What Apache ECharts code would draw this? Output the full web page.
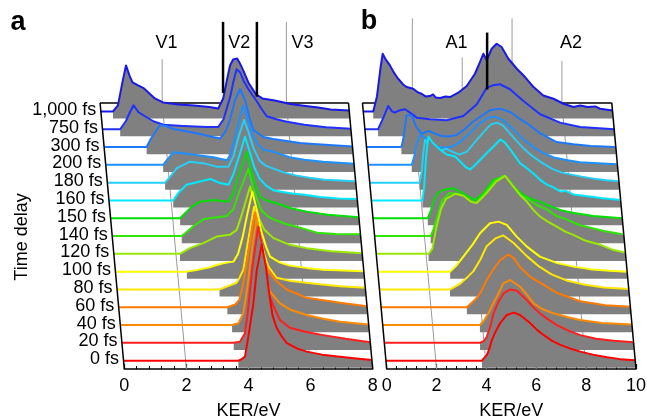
<!DOCTYPE html>
<html>
<head>
<meta charset="utf-8">
<script src="https://cdn.jsdelivr.net/npm/echarts@6/dist/echarts.min.js"></script>
<style>
  html, body { margin: 0; padding: 0; background: #fff; }
  #chart { width: 647px; height: 420px; }
</style>
</head>
<body>
<div id="chart"></div>
<script>
// time delays, front row (0 fs) to back row (1,000 fs)
const delays = ['0 fs', '20 fs', '40 fs', '60 fs', '80 fs', '100 fs', '120 fs', '140 fs',
  '150 fs', '160 fs', '180 fs', '200 fs', '300 fs', '750 fs', '1,000 fs'];
const rowColors = ['#ff0000', '#ff1e1e', '#ff8a00', '#ff7a00', '#ffe800', '#ffff00', '#9be800',
  '#2ee600', '#00e000', '#00e8ff', '#25cff5', '#1e90ff', '#1e78ff', '#2030ff', '#1818e8'];

// panel a, [KER/eV, intensity]
const a0 = [[0,0],[3.7,0],[3.8,1.4],[3.91,4],[4.02,24],[4.18,57],[4.29,90],[4.45,116],[4.58,95],[4.7,65],[4.8,45],[4.93,33],[5.1,24],[5.26,17.4],[5.6,12],[5.9,9],[6.4,6],[6.97,4],[7.5,2.2],[8,0.7]];
const a20 = [[0,0],[3.6,0],[3.8,1],[3.96,9.4],[4.05,30],[4.2,75],[4.39,116],[4.5,100],[4.6,75],[4.71,50],[4.88,37],[5.09,22.7],[5.41,15],[5.9,11],[6.49,7.7],[7.2,4],[8,0.5]];
const a40 = [[0,0],[3.6,0],[3.8,1.7],[3.96,11.7],[4.1,40],[4.25,78],[4.39,106.7],[4.5,88],[4.6,65],[4.72,45],[4.82,33.3],[5.14,21.7],[5.5,15],[6.0,10],[6.5,6.5],[7.08,3.3],[8,0.5]];
const a60 = [[0,0],[3.5,0],[3.75,2.7],[3.89,7.7],[4.0,22],[4.15,50],[4.3,80],[4.39,95],[4.5,80],[4.6,60],[4.7,46],[4.82,36],[5.09,26],[5.41,17.7],[6.06,9.4],[7.13,4.4],[8,1]];
const a80 = [[0,0],[3.3,0],[3.64,4],[3.85,6.7],[3.95,12],[4.07,20],[4.2,45],[4.41,82.7],[4.55,62],[4.7,40],[4.87,23],[5.14,11.7],[5.6,8.5],[6.11,6.7],[6.6,5],[7.18,3.3],[8,1.7]];
const a100 = [[0,0],[2.3,0],[2.6,1.5],[3.0,4],[3.26,6.7],[3.5,8.5],[3.8,10],[3.95,18],[4.1,35],[4.25,58],[4.41,80],[4.55,62],[4.7,40],[4.85,25],[4.98,15],[5.3,9],[5.62,6],[6.2,3.5],[6.7,2],[8,0.5]];
const a120 = [[0,0],[2.13,0],[2.45,5.7],[2.88,10.7],[3.31,17.3],[3.74,19],[3.96,24],[4.15,42],[4.39,67.3],[4.52,52],[4.68,35],[4.85,24],[5.14,15.7],[5.67,9],[6.21,5.7],[7.0,2.5],[8,0.7]];
const a140 = [[0,0],[2.24,0],[2.4,4],[2.62,10],[2.94,16.7],[3.26,18.4],[3.69,20],[3.9,26.7],[4.1,45],[4.39,67.4],[4.52,50],[4.65,38],[4.8,26],[5.0,20],[5.19,16.7],[5.6,12],[6.05,8.4],[6.59,3.4],[7.2,2],[8,1.7]];
const a150 = [[0,0],[2.24,0],[2.4,5],[2.62,11.6],[2.88,16.6],[3.31,18.3],[3.79,16.6],[3.95,25],[4.15,45],[4.39,66.6],[4.5,50],[4.65,35],[4.81,22],[5.0,18],[5.35,15],[5.8,10],[6.32,6.6],[7.0,3.5],[8,1]];
const a160 = [[0,0],[2.07,0],[2.25,8],[2.5,15.7],[2.93,19],[3.26,21.4],[3.58,17.4],[3.85,15.7],[4.0,25.7],[4.2,45],[4.38,63.7],[4.52,50],[4.68,33],[4.85,22],[5.05,15],[5.3,10],[5.6,8.5],[5.9,7],[6.3,5.7],[6.8,3.5],[7.4,2],[8,1.5]];
const a180 = [[0,0],[1.86,0],[2.0,5],[2.24,14.5],[2.66,21],[3.09,19.5],[3.52,16],[3.9,16],[4.06,26],[4.22,45],[4.4,62.7],[4.55,50],[4.7,35],[4.9,22],[5.1,17],[5.35,14],[5.7,10],[6.1,7],[6.5,5],[7.0,3],[8,1.5]];
const a200 = [[0,0],[1.85,0],[2.0,6],[2.18,12.5],[2.61,11],[3.04,9.3],[3.47,7.6],[3.9,4.5],[4.0,9],[4.15,25],[4.3,45],[4.42,59],[4.55,48],[4.7,32],[4.9,20],[5.1,15],[5.4,13],[5.7,10],[6.0,7],[6.4,5],[7.0,3],[8,1]];
const a300 = [[0,0],[1.37,0],[1.5,8],[1.69,17],[1.8,22],[2.0,21],[2.23,18],[2.6,16],[3.09,13],[3.5,10],[3.73,8.5],[3.9,15],[4.05,27],[4.22,47],[4.38,58],[4.54,47],[4.7,27],[4.81,17],[5.13,10],[5.45,8],[5.77,6.5],[6.31,4],[6.63,3.4],[7.38,1.7],[8,0.5]];
const a750 = [[0,0],[0.57,0],[0.75,8],[0.9,18],[1.0,24],[1.16,17],[1.37,13],[1.64,8],[1.96,4.5],[2.6,3.3],[3.36,2.3],[3.73,2.3],[3.9,10],[4.11,32],[4.22,48],[4.32,60],[4.43,57],[4.55,48],[4.7,40],[4.97,28],[5.13,20],[5.29,13],[5.6,10],[5.94,7.5],[6.5,4.5],[7.2,2],[8,0.5]];
const a1000 = [[0,0],[0.39,0],[0.55,6],[0.7,30],[0.81,46],[0.92,36],[1.02,29],[1.2,26],[1.39,23],[1.6,17],[1.74,13],[2.0,9],[2.5,7],[3.0,6],[3.5,4.5],[3.78,3],[3.94,13],[4.05,30],[4.16,46],[4.26,52],[4.39,53],[4.48,48],[4.6,40],[4.75,29],[5.0,17],[5.2,13],[5.6,11],[6.1,7.5],[6.6,5.5],[7.0,4],[7.4,2],[8,1]];

// panel b, [KER/eV, intensity]
const b0 = [[0,0],[3.85,0],[4.05,5.7],[4.15,12],[4.25,20.7],[4.4,29],[4.58,37.4],[4.85,45.7],[5.12,48],[5.38,45.7],[5.79,37.4],[6.05,31],[6.32,25.7],[6.65,20],[7.0,15.7],[7.4,12],[7.8,9],[8.3,6],[8.87,3.4],[9.4,1.5],[10,0.5]];
const b20 = [[0,0],[3.84,0],[4.0,2],[4.11,6],[4.25,16],[4.38,29.4],[4.58,41],[4.78,49.4],[5.05,53.4],[5.32,52],[5.72,42.7],[6.0,35],[6.25,29.4],[6.6,23],[6.92,17.7],[7.4,12],[7.86,7.7],[8.5,4],[9.2,2],[10,0.5]];
const b40 = [[0,0],[3.9,0],[4.05,4],[4.24,11.7],[4.4,20],[4.58,28.3],[4.84,41.7],[5.11,45],[5.51,38.3],[5.8,30],[6.05,21.7],[6.4,16],[6.85,11.7],[7.4,8],[7.92,5],[8.8,2],[10,0.5]];
const b60 = [[0,0],[3.44,0],[3.78,7.7],[4.0,15],[4.18,24.4],[4.45,36],[4.77,47],[5.1,52.7],[5.31,49.4],[5.58,40],[6.0,30],[6.39,24.4],[7.05,14.4],[7.99,6],[9,2],[10,0.5]];
const b80 = [[0,0],[2.83,0],[3.2,5],[3.57,13.3],[3.77,18.3],[4.05,30],[4.3,43.3],[4.65,51],[4.97,54],[5.37,46.7],[5.91,33.3],[6.4,23],[6.9,15],[7.5,9],[8.2,5],[9,2],[10,0.5]];
const b100 = [[0,0],[2.9,0],[3.15,6],[3.43,15],[3.8,27],[4.1,38.4],[4.5,48.4],[4.84,50],[5.17,46.7],[5.57,35],[5.98,25],[6.5,15],[7.2,8.5],[7.84,5],[8.5,2.5],[9.3,1],[10,0]];
const b120 = [[0,0],[2.1,0],[2.25,5],[2.4,25],[2.6,45],[2.8,55],[3.16,60],[3.5,58],[3.8,52],[4.03,50.7],[4.4,60],[4.8,72],[5.17,78],[5.5,67.3],[5.8,58],[6.04,52.3],[6.3,44],[6.57,37.3],[6.9,32],[7.24,27.3],[7.6,22],[7.91,19],[8.4,13],[9.0,9],[9.5,4],[10,1]];
const b140 = [[0,0],[2.25,0],[2.35,6],[2.5,18],[2.7,35],[3.0,43],[3.4,42],[3.8,36],[4.05,33],[4.4,42],[4.8,55],[5.15,60],[5.5,52],[5.9,40],[6.1,38],[6.5,31],[6.9,26.7],[7.3,20],[7.7,16.7],[8.2,11],[8.65,8.4],[9.2,5],[10,1.5]];
const b150 = [[0,0],[2.2,0],[2.3,6],[2.45,18],[2.6,25],[2.82,28.3],[3.22,30],[3.49,26.6],[3.82,21.6],[4.09,18.3],[4.43,25],[4.83,38.3],[5.23,41.6],[5.5,37],[5.63,31.6],[6.03,23.3],[6.3,19.5],[6.7,16.6],[7.1,12],[7.51,8.3],[8.0,5.5],[8.84,2.3],[10,0]];
const b160 = [[0,0],[2.05,0],[2.12,15],[2.2,45],[2.29,64],[2.45,58],[2.75,51],[3.02,46],[3.36,44],[3.56,39],[3.8,33],[3.96,31],[4.1,34],[4.38,41],[4.65,48],[4.9,54],[5.17,61],[5.35,58],[5.57,51],[5.97,37],[6.2,33],[6.5,27],[6.8,20],[7.03,16],[7.3,13],[7.57,9],[7.8,9.5],[8.1,6],[8.6,4.5],[9.2,2.4],[10,0.5]];
const b180 = [[0,0],[2.0,0],[2.08,10],[2.15,30],[2.22,43],[2.35,38],[2.55,33],[2.8,31],[3.05,34],[3.3,31],[3.6,28],[3.9,31],[4.2,40],[4.55,50],[4.85,58],[5.1,60],[5.35,57],[5.7,47],[6.1,36],[6.5,27],[6.9,20],[7.3,14],[7.7,10],[8.1,8],[8.5,6],[9.0,4],[9.5,2.5],[10,1.5]];
const b200 = [[0,0],[1.75,0],[1.85,8],[1.95,22],[2.1,30],[2.25,28],[2.45,22],[2.75,18],[3.05,17],[3.35,18],[3.7,23],[4.05,31],[4.45,41],[4.8,47],[5.1,48],[5.4,45],[5.8,36],[6.2,26],[6.6,18],[7.0,12],[7.5,7],[8.0,4.5],[8.5,2.5],[9.2,1.5],[10,0.5]];
const b300 = [[0,0],[1.4,0],[1.47,7],[1.55,22],[1.61,31.7],[1.81,31.7],[2.0,20],[2.2,13.4],[2.5,16],[2.75,13.4],[3.0,11],[3.3,10.5],[3.6,12],[3.95,18],[4.25,25],[4.55,30],[4.95,36.7],[5.35,38.4],[5.76,35],[6.1,29],[6.42,24],[6.95,14],[7.63,5],[8.3,2.7],[9,1],[10,0]];
const b750 = [[0,0],[0.53,0],[0.75,12],[0.94,23.3],[1.08,18],[1.2,16.6],[1.4,19],[1.61,20],[1.81,16.6],[2.08,11.6],[2.61,10],[3.28,9],[3.95,13.3],[4.49,25],[4.89,41.6],[5.15,44],[5.42,45],[5.82,40],[6.36,28.3],[7.03,15],[7.83,6.6],[8.64,2.3],[10,0]];
const b1000 = [[0,0],[0.4,0],[0.55,15],[0.7,45],[0.78,57.7],[0.9,52],[1.07,46],[1.25,38],[1.4,32.7],[1.6,27],[1.74,24.4],[2.0,22.7],[2.2,19],[2.34,17.7],[2.5,15],[2.67,15.4],[2.8,17],[2.9,14],[3.08,13.4],[3.3,15],[3.48,14.4],[3.81,18.7],[4.15,25.4],[4.48,37.7],[4.68,49.4],[4.82,57.7],[4.95,51],[5.15,62.7],[5.35,67.7],[5.55,64.4],[5.82,52.7],[6.16,42.7],[6.49,34.4],[6.83,24.4],[7.22,16],[7.63,12.7],[8.03,7.7],[8.43,4.4],[8.7,6],[9.0,4.5],[9.3,5],[9.5,2.7],[10,1]];

const rowsA = [a0, a20, a40, a60, a80, a100, a120, a140, a150, a160, a180, a200, a300, a750, a1000];
const rowsB = [b0, b20, b40, b60, b80, b100, b120, b140, b150, b160, b180, b200, b300, b750, b1000];

// guide lines: floor grid, and [KER, top] lines above the box
const floorA = [2, 4, 6];
const floorB = [2, 4, 6, 8];
const guidesA = [[2, 17.4], [6, 19.5]];
const guidesB = [[2, 19.7], [4, 17.5], [6, 19.7], [8, 17.3]];
// thick markers [KER, top, bottom]
const marksA = [[3.96, 19.5, 15.5], [5.05, 19.5, 15.3]];
const marksB = [[5.0, 18.9, 15.7]];
const tagsA = [['V1', 2.14], ['V2', 4.48], ['V3', 6.52]];
const tagsB = [['A1', 3.77], ['A2', 8.36]];

const ROW_UNIT = 17.8;   // intensity per row step
const AXIS_GAP = 0.47;   // front baseline above the axis
const FRAME_TOP = 14.95;
const TAG_Y = 18.3;
const SKEW_PX = 1.62;    // sideways shift per row
const FILL_EXT = 0.4;    // gray drop below each baseline, rows
const FONT = '"Liberation Sans", Arial, sans-serif';
const FS = 18;

const W = 647;
const panels = [
  { left: 124.3, right: 274.3, max: 8, rows: rowsA, floor: floorA, guides: guidesA, marks: marksA, tags: tagsA, labels: true },
  { left: 386.7, right: 11, max: 10, rows: rowsB, floor: floorB, guides: guidesB, marks: marksB, tags: tagsB, labels: false }
];
panels.forEach(p => { p.skew = SKEW_PX / ((W - p.left - p.right) / p.max); });

function seg(a, b, color, width, z2) {
  return { type: 'line', shape: { x1: a[0], y1: a[1], x2: b[0], y2: b[1] },
    style: { stroke: color, lineWidth: width }, z2: z2 || 0 };
}

function backItem(p) {
  return function (params, api) {
    const top = -p.skew * FRAME_TOP;
    const kids = [];
    p.floor.forEach(k => kids.push(seg(api.coord([k, 0]), api.coord([k + top, FRAME_TOP]), '#9a9a9a', 1)));
    p.guides.forEach(g => kids.push(seg(api.coord([g[0] + top, FRAME_TOP]), api.coord([g[0] + top, g[1]]), '#9a9a9a', 1)));
    kids.push(seg(api.coord([top, FRAME_TOP]), api.coord([p.max + top, FRAME_TOP]), '#000', 1.5));
    return { type: 'group', children: kids };
  };
}

function rowItem(p) {
  return function (params, api) {
    const row = api.value(0);
    const yb = AXIS_GAP + row;
    const dx = -p.skew * yb;
    const c = p.rows[row];
    const pts = c.map(d => api.coord([d[0] + dx, yb + d[1] / ROW_UNIT]));
    let on = c.findIndex(d => d[1] > 0.5);
    on = Math.max(0, on - 1);
    const base = yb - FILL_EXT;
    const poly = pts.slice(on).concat([
      api.coord([c[c.length - 1][0] + dx, base]),
      api.coord([c[on][0] + dx, base])
    ]);
    const z = (14 - row) * 2;
    return { type: 'group', children: [
      { type: 'polygon', shape: { points: poly }, style: { fill: '#808080' }, z2: z },
      { type: 'polyline', shape: { points: pts }, style: { stroke: rowColors[row], lineWidth: 2, fill: null, lineJoin: 'round' }, z2: z + 1 }
    ] };
  };
}

function textEl(x, y, str, align, size, weight) {
  return { type: 'text', x: x, y: y, style: {
    text: str, fill: '#000', font: (weight || 'normal') + ' ' + size + 'px ' + FONT,
    align: align, verticalAlign: 'middle', textAlign: align, textVerticalAlign: 'middle' } };
}

function frontItem(p) {
  return function (params, api) {
    const top = -p.skew * FRAME_TOP;
    const kids = [];
    kids.push(seg(api.coord([0, 0]), api.coord([top, FRAME_TOP]), '#000', 1.5));
    kids.push(seg(api.coord([p.max, 0]), api.coord([p.max + top, FRAME_TOP]), '#000', 1.5));
    p.marks.forEach(m => kids.push(seg(api.coord([m[0] + top, m[1]]), api.coord([m[0] + top, m[2]]), '#000', 2.5)));
    p.tags.forEach(t => {
      const q = api.coord([t[1] + top, TAG_Y]);
      kids.push(textEl(q[0], q[1], t[0], 'center', FS));
    });
    if (p.labels) {
      delays.forEach((d, i) => {
        const yb = AXIS_GAP + i;
        const q = api.coord([-p.skew * yb, yb]);
        kids.push(textEl(q[0] - 4.5, q[1] - 1.5, d, 'right', FS));
      });
    }
    return { type: 'group', children: kids };
  };
}

const rowOrder = [];
for (let i = 14; i >= 0; i--) rowOrder.push([i]);

const option = {
  animation: false,
  grid: panels.map(p => ({ left: p.left, right: p.right, top: 13, bottom: 51, containLabel: false, outerBoundsMode: 'none' })),
  xAxis: panels.map((p, i) => ({
    type: 'value', gridIndex: i, min: 0, max: p.max, interval: 2,
    name: 'KER/eV', nameLocation: 'middle', nameGap: 33,
    nameTextStyle: { fontSize: FS, color: '#000', fontFamily: FONT },
    axisLine: { lineStyle: { color: '#000', width: 1.5 } },
    axisTick: { inside: true, length: 5, lineStyle: { color: '#000', width: 1.2 } },
    minorTick: { show: true, splitNumber: 5, length: 3, lineStyle: { color: '#000', width: 1 } },
    axisLabel: { fontSize: FS, color: '#000', fontFamily: FONT, margin: 8 },
    splitLine: { show: false }
  })),
  yAxis: panels.map((p, i) => ({ type: 'value', gridIndex: i, min: 0, max: 20, show: false })),
  series: [].concat(...panels.map((p, i) => [
    { type: 'custom', xAxisIndex: i, yAxisIndex: i, z: 1, clip: false, silent: true, renderItem: backItem(p), data: [[0]] },
    { type: 'custom', xAxisIndex: i, yAxisIndex: i, z: 2, clip: false, silent: true, renderItem: rowItem(p), data: rowOrder },
    { type: 'custom', xAxisIndex: i, yAxisIndex: i, z: 3, clip: false, silent: true, renderItem: frontItem(p), data: [[0]] }
  ])),
  graphic: [
    { type: 'text', x: 18, y: 23, style: { text: 'a', font: 'bold 27px ' + FONT, fill: '#000', align: 'center', verticalAlign: 'middle', textAlign: 'center', textVerticalAlign: 'middle' } },
    { type: 'text', x: 369, y: 22, style: { text: 'b', font: 'bold 27px ' + FONT, fill: '#000', align: 'center', verticalAlign: 'middle', textAlign: 'center', textVerticalAlign: 'middle' } },
    { type: 'text', x: 22, y: 237, rotation: Math.PI / 2, style: { text: 'Time delay', font: FS + 'px ' + FONT, fill: '#000', align: 'center', verticalAlign: 'middle', textAlign: 'center', textVerticalAlign: 'middle' } }
  ]
};

const chart = echarts.init(document.getElementById('chart'));
chart.setOption(option);
</script>
</body>
</html>
